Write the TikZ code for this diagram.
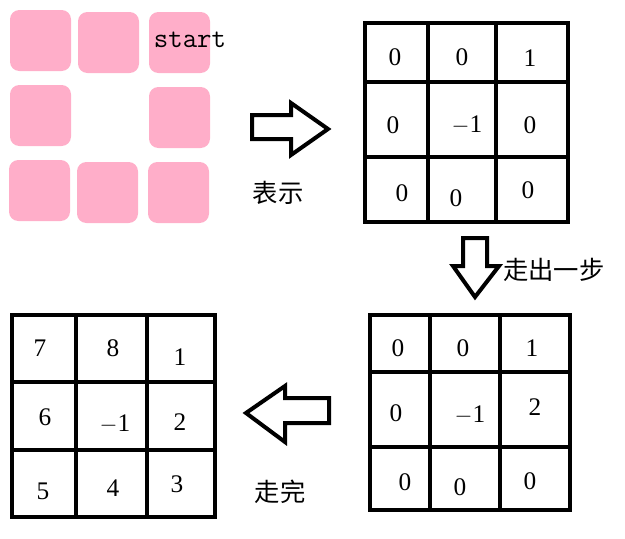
\documentclass[tikz,border=0pt]{standalone}
\usepackage{fontspec}
\newfontfamily\cjk{Noto Sans CJK SC}
\newfontfamily\digitfont{Liberation Serif}
\usepackage{tikz}
\usetikzlibrary{positioning,calc}
\definecolor{tilePink}{RGB}{255,174,201}

\tikzset{
  tile/.style={fill=tilePink, rounded corners=7pt, minimum size=45.75pt, inner sep=0pt},
  gridline/.style={line width=3pt},
  num/.style={font=\digitfont\fontsize{19}{21}\selectfont, inner sep=0pt},
  blockarrow/.style={line width=3pt, line join=miter},
  caption/.style={font=\cjk\fontsize{19}{21}\selectfont, inner sep=0pt}
}

\begin{document}
\begin{tikzpicture}[x=0.75pt, y=-0.75pt]
  \useasboundingbox (0,0) rectangle (625,539);
  % Tiles
  \node[tile] (t1) at (40.5,40.5) {};
  \node[tile] (t2) at (108.5,42.5) {};
  \node[tile] (t3) at (179.5,42.5) {};
  \node[tile] (t4) at (40.5,115.5) {};
  \node[tile] (t6) at (179.5,117.5) {};
  \node[tile] (t7) at (39.5,190.5) {};
  \node[tile] (t8) at (107.5,192.5) {};
  \node[tile] (t9) at (178.5,192.5) {};
  \node[font=\ttfamily\fontsize{21}{23}\selectfont, inner sep=0pt] (start) at (190,40) {start};
  % Grid: encoded
  \draw[gridline] (365,23) rectangle (568,222);
  \draw[gridline] (428,23) -- (428,222) (496,23) -- (496,222)
    (365,82) -- (568,82) (365,157) -- (568,157);
  \foreach \x/\y/\v [count=\i] in {395/57/0, 462/57/0, 530/58/1,
      393/125/0, 467/125/$-$1, 530/125/0, 402/193/0, 456/198/0, 528/190/0}
    \node[num] (a\i) at (\x,\y) {\v};
  % Grid: one step
  \draw[gridline] (370,315) rectangle (570,510);
  \draw[gridline] (430,315) -- (430,510) (500,315) -- (500,510)
    (370,372) -- (570,372) (370,447) -- (570,447);
  \foreach \x/\y/\v [count=\i] in {398/348/0, 463/348/0, 532/348/1,
      396/413/0, 470/415/$-$1, 535/407/2, 405/482/0, 460/487/0, 530/481/0}
    \node[num] (b\i) at (\x,\y) {\v};
  % Grid: finished
  \draw[gridline] (12,315) rectangle (215,517);
  \draw[gridline] (76,315) -- (76,517) (147,315) -- (147,517)
    (12,382) -- (215,382) (12,450) -- (215,450);
  \foreach \x/\y/\v [count=\i] in {40/348/7, 113/348/8, 180/357/1,
      45/417/6, 115/424/$-$1, 180/422/2, 43/491/5, 113/488/4, 177/484/3}
    \node[num] (c\i) at (\x,\y) {\v};
  % Block arrows
  \draw[blockarrow] (252,115) -- (291,115) -- (291,103) -- (328,129)
    -- (291,155) -- (291,139) -- (252,139) -- cycle;
  \node[caption] (show) at (278,193) {表示};
  \draw[blockarrow] (463,238) -- (487,238) -- (487,266) -- (499,266)
    -- (475,297) -- (453,266) -- (463,266) -- cycle;
  \node[caption, anchor=west] (walk) at (503,270) {走出一步};
  \draw[blockarrow] (329,398) -- (285,398) -- (285,386) -- (246,413)
    -- (285,442) -- (285,423) -- (329,423) -- cycle;
  \node[caption] (done) at (280,492) {走完};
\end{tikzpicture}
\end{document}
